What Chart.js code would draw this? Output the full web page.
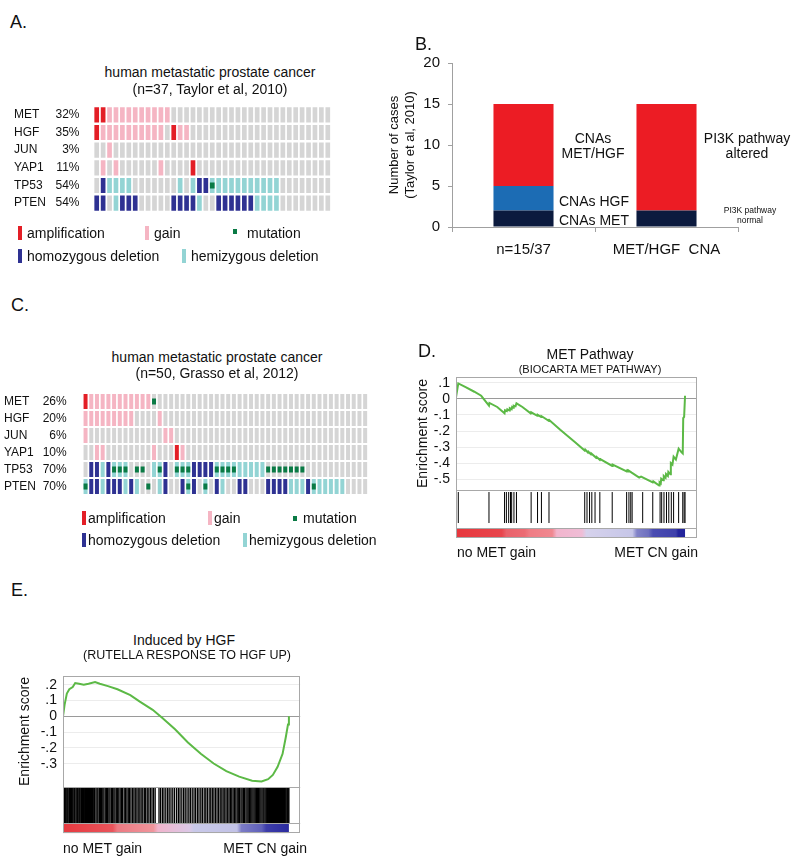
<!DOCTYPE html>
<html>
<head>
<meta charset="utf-8">
<title>MET / HGF alterations in metastatic prostate cancer</title>
<script src="https://cdn.jsdelivr.net/npm/chart.js@4.4.1/dist/chart.umd.min.js"></script>
<style>
  body { margin: 0; background: #fff; }
  #fig { position: relative; width: 800px; height: 862px; overflow: hidden;
         font-family: "Liberation Sans", Arial, sans-serif; color: #111; }
  #fig canvas { position: absolute; }
  .t { position: absolute; white-space: pre; line-height: 1; font-size: 14px; }
  .cc { transform: translate(-50%, -50%); }
  .lc { transform: translate(0, -50%); }
  .rc { transform: translate(-100%, -50%); }
  .panel { font-size: 18px; }
  .sw { position: absolute; width: 4px; height: 14px; }
  .sq { position: absolute; width: 4px; height: 5px; }
</style>
</head>
<body>
<div id="fig">
  <canvas id="taylor" width="331" height="142" style="left:10px;top:88px"></canvas>
  <canvas id="cases" width="365" height="217" style="left:383px;top:45px"></canvas>
  <canvas id="grasso" width="378" height="138" style="left:0px;top:375px"></canvas>
  <canvas id="gseaMet" width="302" height="197" style="left:411px;top:359px"></canvas>
  <canvas id="gseaHgf" width="307" height="197" style="left:13px;top:656px"></canvas>

  <div class="t lc panel" style="left:10px;top:22px">A.</div>
  <div class="t lc panel" style="left:415px;top:44px">B.</div>
  <div class="t lc panel" style="left:11px;top:305px">C.</div>
  <div class="t lc panel" style="left:418px;top:351px">D.</div>
  <div class="t lc panel" style="left:11px;top:590px">E.</div>

  <!-- panel A titles and legend -->
  <div class="t cc" style="left:210px;top:72px">human metastatic prostate cancer</div>
  <div class="t cc" style="left:210px;top:89px">(n=37, Taylor et al, 2010)</div>
  <div class="sw" id="lgA1" style="left:18px;top:226px"></div>
  <div class="t lc" style="left:27px;top:233px">amplification</div>
  <div class="sw" id="lgA2" style="left:145px;top:226px"></div>
  <div class="t lc" style="left:154px;top:233px">gain</div>
  <div class="sq" id="lgA3" style="left:233px;top:229px"></div>
  <div class="t lc" style="left:247px;top:233px">mutation</div>
  <div class="sw" id="lgA4" style="left:18px;top:249px"></div>
  <div class="t lc" style="left:27px;top:256px">homozygous deletion</div>
  <div class="sw" id="lgA5" style="left:182px;top:249px"></div>
  <div class="t lc" style="left:191px;top:256px">hemizygous deletion</div>

  <!-- panel B annotations -->
  <div class="t cc" style="left:593px;top:138px">CNAs</div>
  <div class="t cc" style="left:593px;top:153px">MET/HGF</div>
  <div class="t cc" style="left:594px;top:201px">CNAs HGF</div>
  <div class="t cc" style="left:594px;top:220px">CNAs MET</div>
  <div class="t cc" style="left:747px;top:138px">PI3K pathway</div>
  <div class="t cc" style="left:747px;top:153px">altered</div>
  <div class="t cc" style="left:750px;top:210px;font-size:8.5px">PI3K pathway</div>
  <div class="t cc" style="left:750px;top:220px;font-size:8.5px">normal</div>

  <!-- panel C titles and legend -->
  <div class="t cc" style="left:217px;top:357px">human metastatic prostate cancer</div>
  <div class="t cc" style="left:217px;top:373px">(n=50, Grasso et al, 2012)</div>
  <div class="sw" id="lgC1" style="left:82px;top:511px"></div>
  <div class="t lc" style="left:88px;top:518px">amplification</div>
  <div class="sw" id="lgC2" style="left:208px;top:511px"></div>
  <div class="t lc" style="left:214px;top:518px">gain</div>
  <div class="sq" id="lgC3" style="left:293px;top:516px"></div>
  <div class="t lc" style="left:303px;top:518px">mutation</div>
  <div class="sw" id="lgC4" style="left:82px;top:533px"></div>
  <div class="t lc" style="left:88px;top:540px">homozygous deletion</div>
  <div class="sw" id="lgC5" style="left:243px;top:533px"></div>
  <div class="t lc" style="left:249px;top:540px">hemizygous deletion</div>

  <!-- panel D / E texts -->
  <div class="t cc" style="left:590px;top:354px">MET Pathway</div>
  <div class="t cc" style="left:590px;top:369px;font-size:11px">(BIOCARTA MET PATHWAY)</div>
  <div class="t lc" style="left:457px;top:552px">no MET gain</div>
  <div class="t rc" style="left:698px;top:552px">MET CN gain</div>

  <div class="t cc" style="left:184px;top:640px">Induced by HGF</div>
  <div class="t cc" style="left:187px;top:655px;font-size:12.5px">(RUTELLA RESPONSE TO HGF UP)</div>
  <div class="t lc" style="left:63px;top:848px">no MET gain</div>
  <div class="t rc" style="left:307px;top:848px">MET CN gain</div>
</div>

<script>
// ---- data ----
// cell codes: . none, A amplification, G gain, H homozygous deletion, h hemizygous deletion
const taylorGenes = ['MET', 'HGF', 'JUN', 'YAP1', 'TP53', 'PTEN'];
const taylorPct = ['32%', '35%', '3%', '11%', '54%', '54%'];
const taylorCells = [
  'AAGGGGGGGGGG.........................',
  'AGGGGGGGGGG.AGG......................',
  '..G..................................',
  '.G.G......G....A.....................',
  '.Hhhhh.......h.hHHhhhhhhhhhhh........',
  'HH.hHHH.....HHHHh..HHHHHHhhhh........'
];
const taylorMut = [[], [], [], [], [18], []];

const grassoGenes = ['MET', 'HGF', 'JUN', 'YAP1', 'TP53', 'PTEN'];
const grassoPct = ['26%', '20%', '6%', '10%', '70%', '70%'];
const grassoCells = [
  'AGGGGGGGGGGG......................................',
  'GGGGGGGGG....G....................................',
  'G.............GG..................................',
  '..GG........G...AG................................',
  '.HHhHhhh....hhH.hhhHHHHhhhhhhhhh..................',
  'hHHhHHHhHh...hH..HhH.h.Hh..HH...HHHHhhhHhhhhhh....'
];
const grassoMut = [[12], [], [], [], [5, 6, 7, 9, 10, 13, 16, 17, 18, 23, 24, 25, 26, 32, 33, 34, 35, 36, 37, 38], [0, 11, 18, 21, 40]];

// panel B
const caseGroups = ['n=15/37', 'MET/HGF  CNA'];
const casesMet = [2, 2];      // CNAs MET / PI3K pathway normal
const casesHgf = [3, 0];      // CNAs HGF
const casesBoth = [10, 13];   // CNAs MET/HGF / PI3K pathway altered
const caseTicks = [0, 5, 10, 15, 20];

// panel D (rank position 0..1000, enrichment score)
const metPathwayEs = [[0, 0.01], [10, 0.097], [40, 0.075], [80, 0.045], [110, 0.02], [144, -0.041], [146, -0.025],
  [180, -0.05], [212, -0.089], [214, -0.07], [222, -0.076], [224, -0.064], [233, -0.072], [235, -0.058], [243, -0.064],
  [245, -0.05], [250, -0.055], [252, -0.042], [260, -0.046], [264, -0.027], [290, -0.05], [326, -0.09], [328, -0.083],
  [355, -0.105], [357, -0.099], [372, -0.113], [374, -0.108], [405, -0.136], [407, -0.131], [455, -0.192], [520, -0.27],
  [562, -0.322], [564, -0.316], [576, -0.334], [578, -0.329], [590, -0.347], [592, -0.342], [611, -0.366], [613, -0.361],
  [628, -0.38], [630, -0.375], [682, -0.418], [684, -0.41], [745, -0.452], [747, -0.446], [752, -0.453], [754, -0.447],
  [767, -0.46], [800, -0.49], [808, -0.485], [859, -0.52], [861, -0.514], [887, -0.54], [889, -0.52], [894, -0.527],
  [896, -0.497], [905, -0.507], [907, -0.48], [915, -0.492], [917, -0.468], [925, -0.48], [927, -0.455], [936, -0.47],
  [938, -0.40], [945, -0.41], [950, -0.36], [960, -0.378], [972, -0.31], [985, -0.333], [990, -0.34], [992, -0.12],
  [996, -0.112], [1000, 0.02]];
const metPathwayHits = [10, 144, 212, 220, 230, 238, 243, 253, 264, 328, 356, 373, 406, 562, 572, 583, 593, 607, 628,
  682, 745, 755, 763, 769, 815, 859, 891, 898, 908, 919, 929, 940, 950, 972, 990, 996, 1000];
const metPathwayTicks = [0.1, 0, -0.1, -0.2, -0.3, -0.4, -0.5];

// panel E
const hgfResponseEs = [[0, 0], [7, 0.072], [17, 0.144], [28, 0.171], [43, 0.185], [54, 0.21], [71, 0.206], [92, 0.2],
  [113, 0.206], [142, 0.216], [163, 0.206], [199, 0.191], [241, 0.171], [298, 0.134], [340, 0.093], [397, 0.041],
  [440, -0.01], [496, -0.082], [553, -0.165], [610, -0.237], [667, -0.298], [723, -0.346], [780, -0.381], [837, -0.407],
  [879, -0.412], [908, -0.397], [929, -0.37], [950, -0.319], [972, -0.237], [986, -0.134], [996, -0.051], [1000, 0]];
const hgfResponseHits = [2, 6, 10, 13, 17, 21, 26, 29, 33, 38, 41, 45, 50, 53, 58, 62, 65, 70, 74, 79, 82, 87, 91, 96,
  99, 104, 108, 113, 117, 122, 126, 131, 136, 140, 146, 151, 155, 161, 166, 170, 176, 181, 187, 192, 197, 203, 208, 214,
  219, 225, 230, 236, 242, 247, 253, 259, 264, 271, 277, 283, 289, 295, 301, 308, 314, 320, 327, 333, 340, 346, 353, 360,
  366, 373, 380, 387, 394, 401, 408, 425, 432, 440, 447, 455, 463, 470, 478, 486, 494, 503, 511, 518, 526, 534, 541, 549,
  557, 564, 572, 580, 587, 595, 602, 610, 617, 625, 632, 639, 647, 654, 661, 668, 675, 682, 689, 696, 703, 709, 716, 722,
  729, 735, 741, 747, 753, 759, 765, 771, 776, 782, 788, 793, 799, 804, 810, 815, 820, 826, 831, 836, 841, 846, 851, 856,
  861, 866, 871, 876, 881, 886, 890, 895, 900, 905, 909, 914, 918, 923, 927, 932, 936, 941, 945, 950, 954, 958, 963, 967,
  971, 976, 980, 984, 988, 993, 997, 1000];
const hgfResponseTicks = [0.2, 0.1, 0, -0.1, -0.2, -0.3];

// ---- styles ----
const cellColors = { '.': '#d5d5d5', A: '#e31e26', G: '#f5b5c3', H: '#2e3192', h: '#93d4d4', M: '#0a7a45' };
const metStrip = [[0, '#e7373d'], [0.2, '#e8454c'], [0.22, '#e9626b'], [0.3, '#ec6c74'], [0.32, '#ef7c84'],
  [0.42, '#f08890'], [0.44, '#f2b5cd'], [0.55, '#efbdd6'], [0.57, '#d6d2ec'], [0.77, '#c6c6e8'], [0.79, '#8283c8'],
  [0.84, '#6e70bf'], [0.86, '#4a4cb2'], [0.96, '#3e40aa'], [0.97, '#24259c'], [1, '#22239a']];
const hgfStrip = [[0, '#e6393f'], [0.22, '#e9545b'], [0.24, '#ec7a82'], [0.4, '#f0959c'], [0.42, '#f1b4cc'],
  [0.56, '#dcc8e6'], [0.58, '#c9c9e9'], [0.77, '#c2c2e6'], [0.79, '#7c7cc6'], [0.88, '#5f60ba'], [0.9, '#3d3daa'],
  [1, '#2b2b9f']];

Chart.defaults.font.family = "'Liberation Sans', Arial, sans-serif";
Chart.defaults.color = '#111';

[['lgA1', 'A'], ['lgA2', 'G'], ['lgA3', 'M'], ['lgA4', 'H'], ['lgA5', 'h'],
 ['lgC1', 'A'], ['lgC2', 'G'], ['lgC3', 'M'], ['lgC4', 'H'], ['lgC5', 'h']].forEach(([id, c]) => {
  document.getElementById(id).style.background = cellColors[c];
});

// ---- oncoprints (A, C) ----
function oncoprint(id, genes, pcts, cells, muts, o) {
  const cols = cells[0].split('').map((_, i) => String(i + 1));
  const datasets = [];
  cells.forEach((row, r) => {
    datasets.push({
      data: cols.map(() => [r + o.pad, r + 1 - o.pad]),
      backgroundColor: row.split('').map(c => cellColors[c]),
      grouped: false, order: 2, barPercentage: o.barPct, categoryPercentage: 1, borderWidth: 0
    });
  });
  muts.forEach((list, r) => {
    datasets.push({
      data: cols.map((_, i) => list.includes(i) ? [r + 0.5 - o.mut, r + 0.5 + o.mut] : null),
      backgroundColor: cellColors.M,
      grouped: false, order: 1, barPercentage: o.barPct, categoryPercentage: 1, borderWidth: 0
    });
  });
  const rowAxis = (width, weight, labels, cross, pad) => ({
    type: 'linear', position: 'left', min: 0, max: genes.length, reverse: true, weight: weight,
    grid: { display: false }, border: { display: false },
    afterBuildTicks: s => { s.ticks = genes.map((g, r) => ({ value: r + 0.5 })); },
    afterFit: s => { s.width = width; },
    ticks: { callback: v => labels[Math.floor(v)], crossAlign: cross, padding: pad, font: { size: 12 }, autoSkip: false }
  });
  new Chart(document.getElementById(id), {
    type: 'bar',
    data: { labels: cols, datasets: datasets },
    options: {
      responsive: false, animation: false,
      layout: { padding: { top: 18, bottom: 18, right: 10, left: o.left } },
      plugins: { legend: { display: false }, tooltip: { enabled: false } },
      scales: {
        x: { display: false },
        y: rowAxis(o.pctW, 1, pcts, 'near', o.pctPad),
        yGene: rowAxis(o.geneW, 2, genes, 'far', 0)
      }
    }
  });
}

oncoprint('taylor', taylorGenes, taylorPct, taylorCells, taylorMut,
  { pad: 0.07, mut: 0.17, barPct: 0.73, left: 4, geneW: 40, pctW: 39.5, pctPad: 6 });
oncoprint('grasso', grassoGenes, grassoPct, grassoCells, grassoMut,
  { pad: 0.06, mut: 0.17, barPct: 0.7, left: 4, geneW: 38, pctW: 40.7, pctPad: 8 });

// ---- stacked bars (B) ----
new Chart(document.getElementById('cases'), {
  type: 'bar',
  data: {
    labels: caseGroups,
    datasets: [
      { label: 'CNAs MET / PI3K pathway normal', data: casesMet, backgroundColor: '#0b1a3e' },
      { label: 'CNAs HGF', data: casesHgf, backgroundColor: '#1c6cb4' },
      { label: 'CNAs MET/HGF / PI3K pathway altered', data: casesBoth, backgroundColor: '#ec1c24' }
    ]
  },
  options: {
    responsive: false, animation: false,
    datasets: { bar: { barPercentage: 0.42, categoryPercentage: 1, borderWidth: 0 } },
    layout: { padding: { top: 18, right: 10, bottom: 0, left: 0 } },
    plugins: { legend: { display: false }, tooltip: { enabled: false } },
    scales: {
      x: {
        stacked: true,
        grid: { offset: true, drawOnChartArea: false, tickLength: 5, color: '#a0a0a0' },
        border: { color: '#a0a0a0' },
        ticks: { font: { size: 15 }, padding: 9 },
        afterFit: s => { s.height = 35; }
      },
      y: {
        stacked: true, min: 0, max: 20,
        afterBuildTicks: s => { s.ticks = caseTicks.map(v => ({ value: v })); },
        ticks: { font: { size: 15 }, padding: 8, autoSkip: false },
        grid: { drawOnChartArea: false, tickLength: 4, color: '#a0a0a0' },
        border: { color: '#a0a0a0' },
        title: { display: true, text: ['Number of cases', '(Taylor et al, 2010)'], font: { size: 13 }, padding: { top: 4, bottom: 0 } },
        afterFit: s => { s.width = 69; }
      }
    }
  }
});

// ---- enrichment plots (D, E) ----
const gseaFrame = {
  id: 'gseaFrame',
  afterDraw(chart, args, opts) {
    const { ctx, chartArea: a, scales } = chart;
    ctx.save();
    ctx.strokeStyle = '#a8a8a8';
    ctx.lineWidth = 1;
    ctx.strokeRect(Math.round(a.left) + 0.5, Math.round(a.top) + 0.5, Math.round(a.width) - 1, Math.round(a.height) - 1);
    [scales.yb.top, scales.yb.getPixelForValue(opts.stripTop)].forEach(y => {
      ctx.beginPath();
      ctx.moveTo(a.left, Math.round(y) + 0.5);
      ctx.lineTo(a.right, Math.round(y) + 0.5);
      ctx.stroke();
    });
    ctx.restore();
  }
};

function gsea(id, es, hits, ticks, o) {
  new Chart(document.getElementById(id), {
    type: 'line',
    data: {
      datasets: [
        { data: es.map(p => ({ x: p[0], y: p[1] })), yAxisID: 'y', borderColor: '#5cb946', borderWidth: 2,
          pointRadius: 0, tension: 0 },
        { data: hits.map(x => ({ x: x, y: o.hitY })), yAxisID: 'yb', showLine: false, pointStyle: 'line',
          rotation: 90, pointRadius: o.hitR, pointBorderColor: '#000', pointBorderWidth: o.hitW },
        { data: [{ x: 0, y: o.stripY }, { x: 1000, y: o.stripY }], yAxisID: 'yb', pointRadius: 0,
          borderWidth: o.stripW, borderCapStyle: 'butt',
          borderColor: ctx => {
            const ch = ctx.chart;
            if (!ch.chartArea) return '#c8c8e8';
            const xs = ch.scales.x;
            const g = ch.ctx.createLinearGradient(xs.getPixelForValue(0), 0, xs.getPixelForValue(1000), 0);
            o.strip.forEach(s => g.addColorStop(s[0], s[1]));
            return g;
          } }
      ]
    },
    options: {
      responsive: false, animation: false,
      layout: { padding: { top: 18, right: 10, bottom: 18, left: 0 } },
      plugins: { legend: { display: false }, tooltip: { enabled: false }, gseaFrame: { stripTop: o.stripTop } },
      scales: {
        x: { type: 'linear', min: 0, max: 1050, display: false },
        yb: {
          type: 'linear', position: 'left', stack: 'gsea', stackWeight: o.barH, min: 0, max: 1,
          afterFit: s => { s.width = o.axisW; },
          ticks: { display: false }, grid: { display: false }, border: { display: false }
        },
        y: {
          type: 'linear', position: 'left', stack: 'gsea', stackWeight: o.esH, min: o.min, max: o.max,
          afterBuildTicks: s => { s.ticks = ticks.map(v => ({ value: v })); },
          afterFit: s => { s.width = o.axisW; },
          ticks: { font: { size: 14 }, padding: 6, autoSkip: false,
                   callback: v => v === 0 ? '0' : String(v).replace('0.', '.') },
          grid: { drawTicks: false, color: c => (c.tick && c.tick.value === 0) ? '#9a9a9a' : '#ececec' },
          border: { display: false },
          title: { display: true, text: 'Enrichment score', font: { size: 14 }, padding: { top: 4, bottom: 0 } }
        }
      }
    },
    plugins: [gseaFrame]
  });
}

gsea('gseaMet', metPathwayEs, metPathwayHits, metPathwayTicks,
  { min: -0.568, max: 0.137, esH: 113, barH: 48, axisW: 45, hitY: 0.635, hitR: 15.5, hitW: 1,
    stripY: 0.104, stripW: 10, stripTop: 0.208, strip: metStrip });
gsea('gseaHgf', hgfResponseEs, hgfResponseHits, hgfResponseTicks,
  { min: -0.448, max: 0.256, esH: 114, barH: 47, axisW: 50, hitY: 0.606, hitR: 18.5, hitW: 1.3,
    stripY: 0.106, stripW: 10, stripTop: 0.213, strip: hgfStrip });
</script>
</body>
</html>
